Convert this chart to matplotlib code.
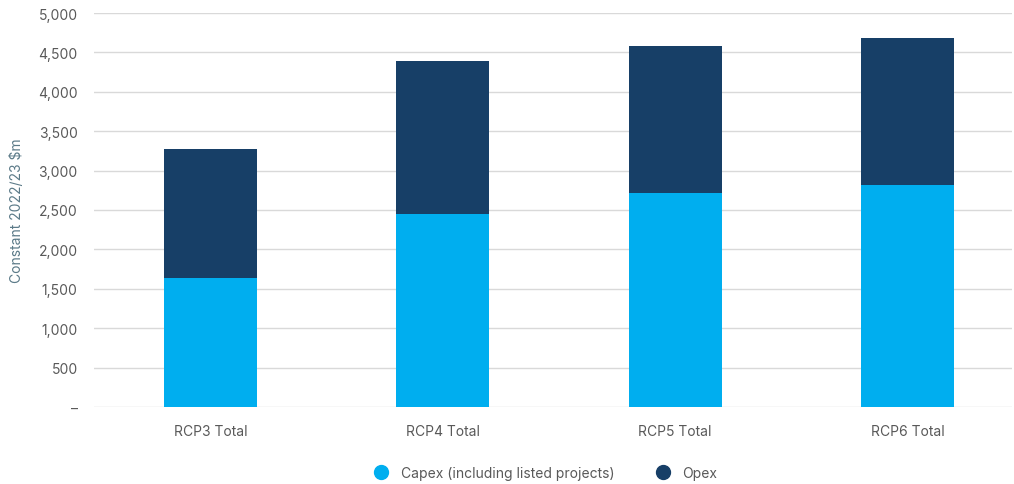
import matplotlib.pyplot as plt
from matplotlib.lines import Line2D
from matplotlib.ticker import FuncFormatter

categories = ["RCP3 Total", "RCP4 Total", "RCP5 Total", "RCP6 Total"]
capex = [1640, 2450, 2715, 2815]
opex = [1635, 1940, 1865, 1865]

CAPEX_COLOR = "#00AEEF"
OPEX_COLOR = "#173F67"
TEXT_COLOR = "#595959"

plt.rcParams["font.family"] = ["Inter", "DejaVu Sans"]

fig = plt.figure(figsize=(10.14, 4.85), dpi=100)
ax = fig.add_axes([0.093, 0.159, 0.905, 0.812])

x = range(len(categories))
ax.bar(x, capex, width=0.4, color=CAPEX_COLOR, zorder=3)
ax.bar(x, opex, width=0.4, bottom=capex, color=OPEX_COLOR, zorder=3)

ax.set_xlim(-0.5, 3.45)
ax.set_ylim(0, 5000)
ax.set_yticks(range(0, 5001, 500))
ax.yaxis.set_major_formatter(FuncFormatter(lambda v, p: "–" if v == 0 else f"{v:,.0f}"))
ax.set_xticks(list(x))
ax.set_xticklabels(categories)

ax.grid(axis="y", color="#d9d9d9", linewidth=1, zorder=0)
for s in ax.spines.values():
    s.set_visible(False)
ax.tick_params(axis="y", length=0, colors=TEXT_COLOR, labelsize=10, pad=12)
ax.tick_params(axis="x", length=0, colors=TEXT_COLOR, labelsize=10, pad=12)
ax.set_ylabel("Constant 2022/23 $m", color="#5b7a88", fontsize=10, labelpad=10)

handles = [
    Line2D([], [], marker="o", linestyle="", markersize=10, color=CAPEX_COLOR),
    Line2D([], [], marker="o", linestyle="", markersize=10, color=OPEX_COLOR),
]
fig.legend(handles, ["Capex (including listed projects)", "Opex"], loc="center",
           bbox_to_anchor=(0.535, 0.022), ncol=2, frameon=False, fontsize=10,
           labelcolor=TEXT_COLOR, handletextpad=0.4, columnspacing=2.5)

fig.savefig("out.png", dpi=100)
